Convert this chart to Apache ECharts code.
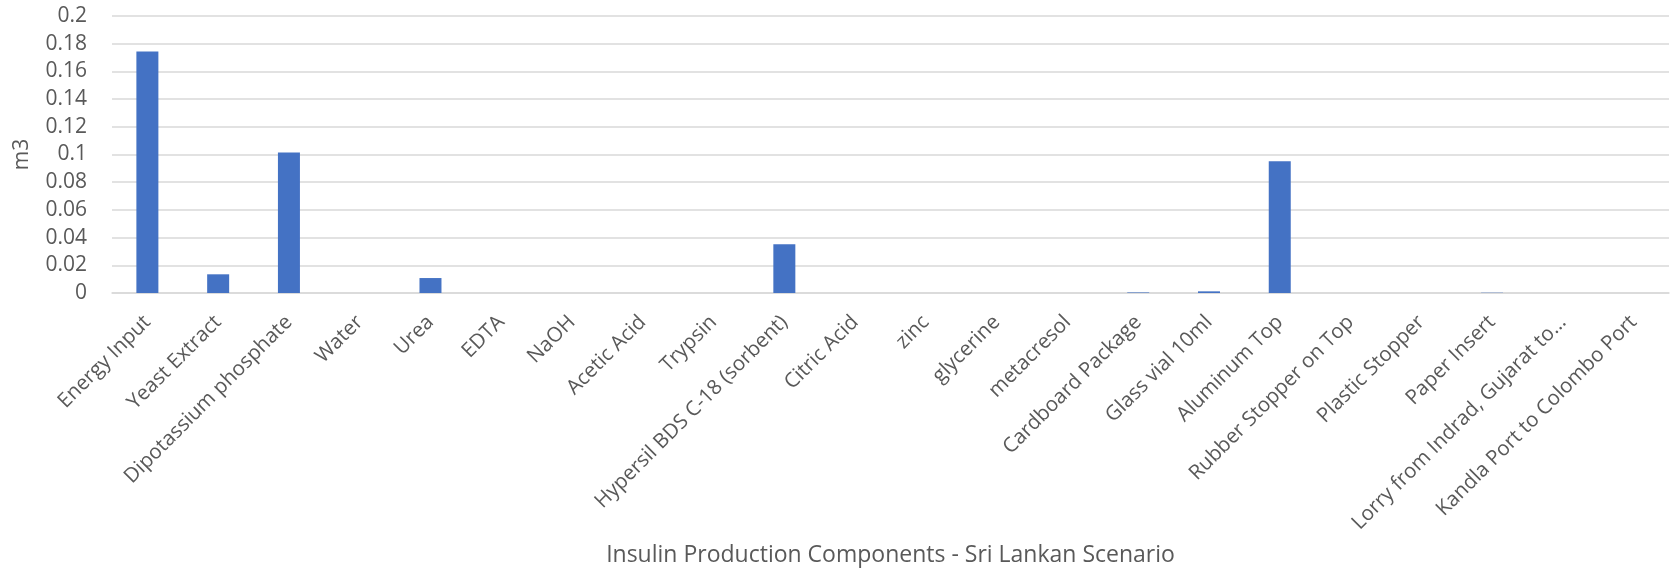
<!DOCTYPE html>
<html>
<head>
<meta charset="utf-8">
<script src="https://cdn.jsdelivr.net/npm/echarts@6/dist/echarts.min.js"></script>
<style>
  html, body { margin: 0; padding: 0; background: #fff; }
  #chart { width: 1671px; height: 571px; }
</style>
</head>
<body>
<div id="chart"></div>
<script>
// Insulin production components and their volume (m3)
const categories = [
  'Energy Input', 'Yeast Extract', 'Dipotassium phosphate', 'Water', 'Urea',
  'EDTA', 'NaOH', 'Acetic Acid', 'Trypsin', 'Hypersil BDS C-18 (sorbent)',
  'Citric Acid', 'zinc', 'glycerine', 'metacresol', 'Cardboard Package',
  'Glass vial 10ml', 'Aluminum Top', 'Rubber Stopper on Top', 'Plastic Stopper',
  'Paper Insert', 'Lorry from Indrad, Gujarat to…', 'Kandla Port to Colombo Port'
];
const volumes = [
  0.1743, 0.0135, 0.1014, 0, 0.0108,
  0, 0, 0, 0, 0.0352,
  0, 0, 0, 0, 0.0004,
  0.0012, 0.0952, 0, 0,
  0.0002, 0, 0
];
const yTicks = { min: 0, max: 0.2, interval: 0.02 };
const yAxisTitle = 'm3';
const xAxisTitle = 'Insulin Production Components - Sri Lankan Scenario';

const FONT = '"Open Sans", "Liberation Sans", sans-serif';
const chart = echarts.init(document.getElementById('chart'), null, { renderer: 'canvas' });

chart.setOption({
  animation: false,
  backgroundColor: '#ffffff',
  textStyle: { fontFamily: FONT },
  grid: { left: 112, right: 2, top: 16, bottom: 278, containLabel: false },
  xAxis: {
    type: 'category',
    data: categories,
    name: xAxisTitle,
    nameLocation: 'middle',
    nameGap: 251,
    nameTextStyle: { fontFamily: FONT, fontSize: 23, color: '#595959' },
    axisLine: { show: true, lineStyle: { color: '#d9d9d9', width: 1.5 } },
    axisTick: { show: false },
    axisLabel: {
      interval: 0,
      rotate: 45,
      margin: 26,
      fontFamily: FONT,
      fontSize: 20.5,
      color: '#595959'
    }
  },
  yAxis: {
    type: 'value',
    min: yTicks.min,
    max: yTicks.max,
    interval: yTicks.interval,
    name: yAxisTitle,
    nameLocation: 'middle',
    nameGap: 79,
    nameRotate: 90,
    nameTextStyle: { fontFamily: FONT, fontSize: 21, color: '#595959' },
    axisLine: { show: false },
    axisTick: { show: false },
    axisLabel: {
      margin: 25,
      fontFamily: FONT,
      fontSize: 21,
      color: '#595959',
      formatter: v => String(parseFloat(v.toFixed(2)))
    },
    splitLine: { lineStyle: { color: '#d9d9d9', width: 1.5 } }
  },
  series: [{
    type: 'bar',
    data: volumes,
    barWidth: 22,
    itemStyle: { color: '#4472C4' }
  }]
});
</script>
</body>
</html>
